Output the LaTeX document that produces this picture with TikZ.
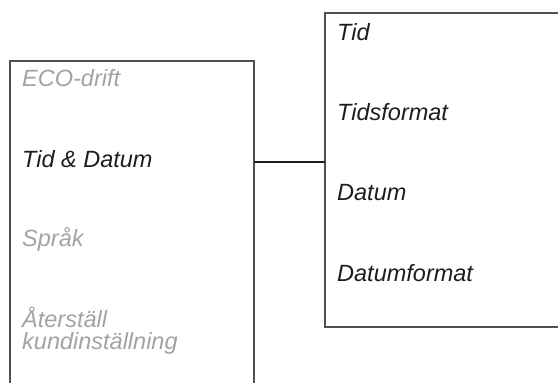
\documentclass[tikz,border=0pt]{standalone}
\usepackage{fontspec}
\setmainfont{Liberation Sans}
\definecolor{frame}{HTML}{505050}
\definecolor{active}{HTML}{1E1E1E}
\definecolor{inactive}{HTML}{A3A3A5}
\tikzset{
  menuitem/.style={anchor=base west,inner sep=0pt,font=\fontsize{23.5}{22}\selectfont\itshape,text=active},
  greyitem/.style={menuitem,text=inactive},
  boxline/.style={draw=frame,line width=1.3pt}
}
\begin{document}
\begin{tikzpicture}[x=1pt,y=-1pt]
  \useasboundingbox (0,0) rectangle (558,383);
  % main menu, open at the bottom
  \draw[boxline] (10,383) -- (10,61) -- (254,61) -- (254,383);
  \coordinate (mainR) at (254,162);
  \node[greyitem] (eco) at (22,86) {ECO-drift};
  \node[menuitem] (tiddatum) at (22,167) {Tid \& Datum};
  \node[greyitem] (sprak) at (22,246) {Språk};
  \node[greyitem,align=left] (reset) at (22,349) {Återställ\\kundinställning};
  % submenu, open at the right
  \draw[boxline] (558,13) -- (325,13) -- (325,327) -- (558,327);
  \coordinate (subL) at (325,162);
  \node[menuitem] (tid) at (337,40) {Tid};
  \node[menuitem] (tidsformat) at (337,120) {Tidsformat};
  \node[menuitem] (datum) at (337,200) {Datum};
  \node[menuitem] (datumformat) at (337,281) {Datumformat};
  % link
  \draw[draw=active,line width=1.3pt] (mainR) -- (subL);
\end{tikzpicture}
\end{document}
